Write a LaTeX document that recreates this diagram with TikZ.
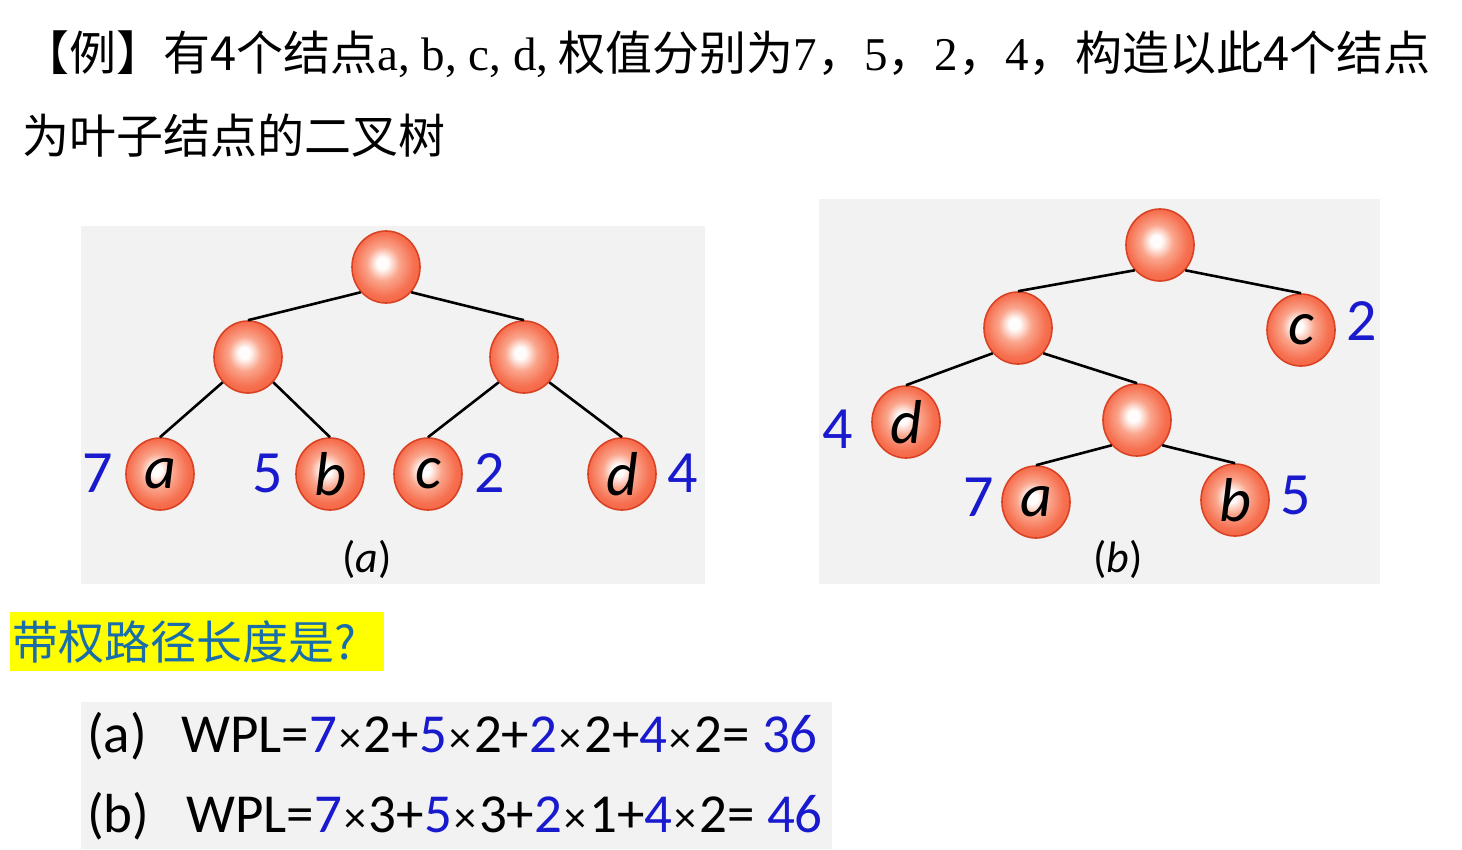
\documentclass[tikz,border=0pt]{standalone}
\usepackage{fontspec}
\setmainfont{Liberation Serif}
\newfontfamily\cjk{Noto Sans CJK SC}
\newfontfamily\calfnt{Carlito}
\usetikzlibrary{shapes.geometric}
\definecolor{panelbg}{RGB}{242,242,242}
\definecolor{numblue}{RGB}{25,25,205}
\definecolor{qblue}{RGB}{25,110,170}
\definecolor{qyellow}{RGB}{255,255,0}
\definecolor{ballw}{RGB}{255,253,252}
\definecolor{ballp}{RGB}{250,165,140}
\definecolor{ballm}{RGB}{246,112,80}
\definecolor{ballq}{RGB}{240,88,55}
\definecolor{ballo}{RGB}{232,74,42}
\definecolor{ballrim}{RGB}{218,66,36}
\pgfdeclareradialshading{ballsh}{\pgfpoint{-3bp}{3bp}}{color(0bp)=(ballw); color(4bp)=(ballw); color(12bp)=(ballp); color(22bp)=(ballm); color(34bp)=(ballq); color(46bp)=(ballo); color(50bp)=(ballo)}
\newcommand{\tms}{\makebox[27pt]{\fontsize{44}{44}\selectfont ×}}
\tikzset{
  ball/.style={ellipse, minimum width=68pt, minimum height=72pt, inner sep=0pt,
    shade, shading=ballsh, draw=ballrim, line width=1.6pt,
    font=\calfnt\itshape\fontsize{62}{62}\selectfont, text=black},
  lnk/.style={line width=2.6pt, black},
  lab/.style={inner sep=0pt, anchor=base, text=numblue, font=\calfnt\fontsize{60}{60}\selectfont},
  captxt/.style={inner sep=0pt, anchor=base, font=\calfnt\fontsize{44}{44}\selectfont},
  ttl/.style={inner sep=0pt, anchor=base west, font=\fontsize{47}{47}\selectfont},
  wpl/.style={inner sep=0pt, anchor=base west, font=\calfnt\fontsize{55}{55}\selectfont}
}
\begin{document}
\begin{tikzpicture}[x=1pt,y=-1pt]
\useasboundingbox (0,0) rectangle (1462,849);
\fill[white] (0,0) rectangle (1462,849);
% title
\node[ttl] (t1) at (22,70) {\cjk 【例】有4个结点{\rmfamily a, b, c, d,} 权值分别为{\rmfamily 7}，{\rmfamily 5}，{\rmfamily 2}，{\rmfamily 4}，构造以此4个结点};
\node[ttl] (t2) at (22,153) {\cjk 为叶子结点的二叉树};
% panels
\fill[panelbg] (81,226) rectangle (705,584);
\fill[panelbg] (819,199) rectangle (1380,584);
% tree (a)
\node[ball] (ar) at (386,267) {};
\node[ball] (al) at (248,357) {};
\node[ball] (aR) at (524,357) {};
\node[ball] (aa) at (160,474) {a};
\node[ball] (ab) at (330,474) {b};
\node[ball] (ac) at (428,474) {c};
\node[ball] (ad) at (622,474) {d};
\draw[lnk] (ar.225) -- (al.north);
\draw[lnk] (ar.-45) -- (aR.north);
\draw[lnk] (al.225) -- (aa.north);
\draw[lnk] (al.-45) -- (ab.north);
\draw[lnk] (aR.225) -- (ac.north);
\draw[lnk] (aR.-45) -- (ad.north);
\node[lab] (wa7) at (98,492) {7};
\node[lab] (wa5) at (268,492) {5};
\node[lab] (wa2) at (490,492) {2};
\node[lab] (wa4) at (683,492) {4};
\node[captxt] (capa) at (367,572) {(\textit{a})};
% tree (b)
\node[ball] (br) at (1160,245) {};
\node[ball] (bl) at (1018,328) {};
\node[ball] (bc) at (1301,330) {c};
\node[ball] (bd) at (906,422) {d};
\node[ball] (bi) at (1137,420) {};
\node[ball] (ba) at (1036,502) {a};
\node[ball] (bb) at (1235,500) {b};
\draw[lnk] (br.225) -- (bl.north);
\draw[lnk] (br.-45) -- (bc.north);
\draw[lnk] (bl.225) -- (bd.north);
\draw[lnk] (bl.-45) -- (bi.north);
\draw[lnk] (bi.225) -- (ba.north);
\draw[lnk] (bi.-45) -- (bb.north);
\node[lab] (wb2) at (1362,340) {2};
\node[lab] (wb4) at (838,448) {4};
\node[lab] (wb7) at (979,516) {7};
\node[lab] (wb5) at (1296,514) {5};
\node[captxt] (capb) at (1118,572) {(\textit{b})};
% question
\fill[qyellow] (10,612) rectangle (384,671);
\node[ttl, text=qblue, font=\cjk\fontsize{46}{46}\selectfont] (q) at (12,659) {带权路径长度是?};
% WPL
\fill[panelbg] (81,702) rectangle (832,849);
\node[wpl] (la) at (87,752) {(a)};
\node[wpl] (ea) at (181,752) {WPL=\textcolor{numblue}{7}\tms 2+\textcolor{numblue}{5}\tms 2+\textcolor{numblue}{2}\tms 2+\textcolor{numblue}{4}\tms 2= \textcolor{numblue}{36}};
\node[wpl] (lb) at (87,832) {(b)};
\node[wpl] (eb) at (186,832) {WPL=\textcolor{numblue}{7}\tms 3+\textcolor{numblue}{5}\tms 3+\textcolor{numblue}{2}\tms 1+\textcolor{numblue}{4}\tms 2= \textcolor{numblue}{46}};
\end{tikzpicture}
\end{document}
